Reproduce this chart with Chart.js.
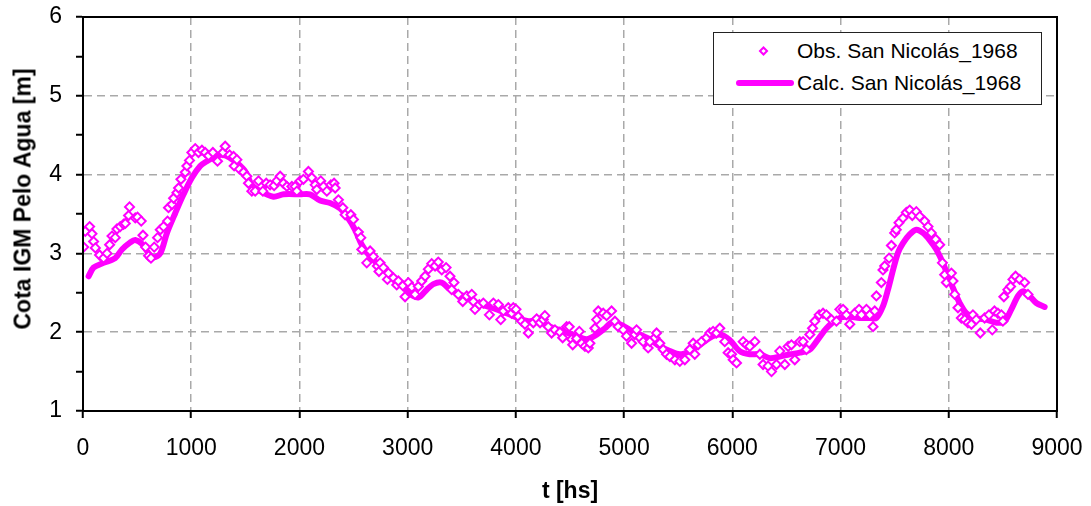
<!DOCTYPE html>
<html>
<head>
<meta charset="utf-8">
<script src="https://cdn.jsdelivr.net/npm/chart.js@4.4.0/dist/chart.umd.min.js"></script>
<style>
  body { margin: 0; background: #fff; font-family: "Liberation Sans", Arial, sans-serif; }
  #wrap { position: relative; width: 1091px; height: 506px; }
  #y-title {
    position: absolute; left: 23px; top: 199px;
    transform: translate(-50%, -50%) rotate(-90deg);
    font-weight: bold; font-size: 23px; white-space: nowrap; color: #000;
  }
  #legend {
    position: absolute; left: 713px; top: 32px; width: 327px; height: 71px;
    border: 1px solid #222; background: #fff; font-size: 21px; color: #000;
  }
  .row { position: absolute; left: 0; height: 28px; width: 100%; }
  .row span.txt { position: absolute; left: 83px; top: 50%; transform: translateY(-50%); white-space: nowrap; }
  .diamond {
    position: absolute; left: 46px; top: 50%; width: 7px; height: 7px; box-sizing: border-box;
    border: 2px solid #FF00FF; background: #fff; transform: translateY(-50%) rotate(45deg);
  }
  .line {
    position: absolute; left: 22px; width: 58px; height: 6px; top: 50%;
    background: #FF00FF; border-radius: 3px; transform: translateY(-50%);
  }
</style>
</head>
<body>
<div id="wrap">
  <canvas id="chart" width="1091" height="506"></canvas>
  <div id="y-title">Cota IGM Pelo Agua [m]</div>
  <div id="legend">
    <div class="row" style="top:4px"><div class="diamond"></div><span class="txt">Obs. San Nicolás_1968</span></div>
    <div class="row" style="top:36px"><div class="line"></div><span class="txt">Calc. San Nicolás_1968</span></div>
  </div>
</div>
<script>
const FONT = '"Liberation Sans", Arial, sans-serif';
const MAGENTA = '#FF00FF';

// observed levels (t in hours, level in m)
const obsT = [6, 21, 61, 83, 98, 114, 153, 190, 222, 246, 268, 298, 314, 344, 375, 391, 421, 430, 483, 504,
  538, 554, 578, 606, 628, 658, 689, 714, 744, 781, 790, 822, 837, 868, 883, 905, 945, 960, 984, 1006,
  1037, 1067, 1099, 1129, 1160, 1200, 1243, 1293, 1314, 1354, 1391, 1397, 1422, 1446, 1483, 1514, 1529, 1560, 1591, 1622,
  1662, 1693, 1729, 1766, 1791, 1822, 1852, 1884, 1930, 1960, 1976, 2006, 2037, 2083, 2114, 2145, 2160, 2197, 2222, 2253,
  2290, 2320, 2330, 2360, 2401, 2422, 2475, 2499, 2545, 2567, 2576, 2622, 2653, 2683, 2720, 2735, 2745, 2776, 2813, 2822,
  2868, 2899, 2914, 2955, 2976, 3006, 3038, 3068, 3099, 3130, 3161, 3191, 3222, 3253, 3283, 3315, 3355, 3391, 3407, 3428,
  3468, 3509, 3546, 3592, 3607, 3622, 3662, 3699, 3755, 3792, 3838, 3860, 3884, 3930, 3961, 3976, 4001, 4022, 4053, 4084,
  4115, 4161, 4192, 4223, 4253, 4268, 4299, 4330, 4361, 4407, 4432, 4469, 4493, 4515, 4525, 4561, 4586, 4608, 4638, 4669,
  4684, 4730, 4746, 4761, 4807, 4838, 4884, 4915, 4945, 4991, 5022, 5069, 5099, 5115, 5146, 5176, 5222, 5238, 5284, 5300,
  5330, 5361, 5392, 5423, 5469, 5515, 5561, 5607, 5638, 5653, 5684, 5715, 5761, 5792, 5822, 5853, 5884, 5930, 5961, 5993,
  6008, 6039, 6100, 6131, 6161, 6208, 6254, 6284, 6330, 6362, 6408, 6438, 6485, 6516, 6546, 6577, 6623, 6654, 6685, 6716,
  6741, 6762, 6802, 6838, 6869, 6916, 6962, 6993, 7023, 7054, 7085, 7131, 7171, 7193, 7239, 7270, 7300, 7316, 7331, 7377,
  7392, 7408, 7448, 7470, 7500, 7515, 7540, 7577, 7608, 7639, 7663, 7700, 7731, 7777, 7808, 7839, 7879, 7916, 7941, 7962,
  7978, 8024, 8039, 8055, 8085, 8116, 8147, 8177, 8209, 8223, 8254, 8291, 8331, 8371, 8402, 8422, 8454, 8486, 8500, 8509,
  8546, 8571, 8593, 8617, 8655, 8701, 8732];
const obsH = [3.08, 3.28, 3.34, 3.25, 3.15, 3.07, 2.98, 2.94, 3.00, 3.11, 3.22, 3.20, 3.31, 3.34, 3.37, 3.38, 3.48, 3.59, 3.45, 3.46,
  3.41, 3.23, 3.08, 2.97, 2.94, 3.08, 3.20, 3.30, 3.34, 3.41, 3.58, 3.62, 3.70, 3.77, 3.83, 3.94, 4.03, 4.11, 4.18, 4.28,
  4.33, 4.28, 4.31, 4.28, 4.24, 4.28, 4.17, 4.28, 4.36, 4.25, 4.23, 4.11, 4.19, 4.07, 4.03, 3.98, 3.89, 3.79, 3.79, 3.92,
  3.79, 3.89, 3.87, 3.86, 3.92, 3.98, 3.89, 3.85, 3.85, 3.85, 3.79, 3.92, 3.94, 4.04, 3.96, 3.87, 3.81, 3.92, 3.85, 3.79,
  3.87, 3.89, 3.83, 3.68, 3.58, 3.49, 3.49, 3.43, 3.27, 3.20, 3.05, 2.88, 3.03, 2.96, 2.84, 2.77, 2.88, 2.82, 2.67, 2.75,
  2.69, 2.60, 2.65, 2.59, 2.45, 2.63, 2.57, 2.48, 2.58, 2.65, 2.71, 2.80, 2.87, 2.84, 2.89, 2.79, 2.82, 2.71, 2.54, 2.63,
  2.48, 2.39, 2.46, 2.48, 2.39, 2.29, 2.35, 2.37, 2.22, 2.37, 2.35, 2.16, 2.27, 2.31, 2.24, 2.31, 2.29, 2.20, 2.14, 2.10,
  1.99, 2.12, 2.17, 2.12, 2.16, 2.21, 2.07, 1.99, 2.03, 2.00, 1.93, 2.07, 2.07, 1.91, 1.84, 1.92, 2.01, 1.86, 1.82, 1.80,
  1.86, 2.05, 2.16, 2.27, 2.24, 2.21, 2.27, 2.14, 2.07, 2.03, 1.95, 1.86, 1.97, 2.03, 1.93, 1.88, 1.80, 1.88, 1.93, 1.99,
  1.86, 1.78, 1.72, 1.69, 1.65, 1.63, 1.65, 1.78, 1.86, 1.72, 1.84, 1.88, 1.93, 1.99, 2.01, 1.99, 2.05, 1.88, 1.74, 1.72,
  1.65, 1.61, 1.88, 1.84, 1.82, 1.88, 1.72, 1.59, 1.57, 1.50, 1.59, 1.76, 1.59, 1.82, 1.84, 1.65, 1.88, 1.88, 1.78, 1.97,
  2.05, 2.14, 2.22, 2.24, 2.22, 2.16, 2.14, 2.29, 2.29, 2.22, 2.10, 2.24, 2.29, 2.22, 2.29, 2.22, 2.07, 2.27, 2.46, 2.63,
  2.79, 2.84, 2.94, 3.10, 3.26, 3.30, 3.39, 3.45, 3.52, 3.55, 3.48, 3.53, 3.47, 3.41, 3.34, 3.26, 3.18, 3.11, 2.88, 2.73,
  2.63, 2.75, 2.65, 2.48, 2.31, 2.18, 2.16, 2.12, 2.10, 2.22, 2.16, 1.99, 2.18, 2.22, 2.03, 2.27, 2.24, 2.22, 2.14, 2.45,
  2.54, 2.58, 2.67, 2.71, 2.67, 2.63, 2.48];

// computed levels
const calcT = [52, 98, 190, 298, 360, 437, 483, 545, 606, 652, 714, 776, 852, 929, 1006, 1083, 1145, 1222, 1298, 1360,
  1422, 1499, 1560, 1637, 1760, 1852, 2006, 2098, 2191, 2283, 2376, 2438, 2514, 2576, 2653, 2745, 2837, 2930, 3006, 3099,
  3176, 3237, 3315, 3376, 3453, 3546, 3638, 3730, 3823, 3915, 4038, 4115, 4192, 4315, 4438, 4561, 4654, 4746, 4823, 4884,
  4961, 5054, 5146, 5238, 5330, 5423, 5515, 5607, 5700, 5792, 5884, 5976, 6068, 6161, 6254, 6346, 6438, 6531, 6623, 6715,
  6792, 6870, 6962, 7054, 7177, 7270, 7331, 7392, 7438, 7485, 7531, 7577, 7639, 7700, 7762, 7823, 7885, 7946, 7990, 8039,
  8101, 8163, 8255, 8347, 8440, 8517, 8578, 8640, 8686, 8746, 8809, 8886];
const calcH = [2.71, 2.82, 2.88, 2.94, 3.05, 3.14, 3.17, 3.12, 3.00, 2.95, 3.00, 3.26, 3.51, 3.75, 3.96, 4.11, 4.17, 4.23, 4.25, 4.21,
  4.15, 4.04, 3.87, 3.79, 3.72, 3.75, 3.75, 3.75, 3.67, 3.64, 3.57, 3.47, 3.30, 3.11, 2.96, 2.84, 2.73, 2.63, 2.50, 2.44,
  2.54, 2.61, 2.63, 2.56, 2.50, 2.44, 2.37, 2.33, 2.29, 2.24, 2.17, 2.14, 2.14, 2.07, 2.01, 1.95, 1.91, 1.97, 2.05, 2.12,
  2.10, 2.03, 1.97, 1.91, 1.82, 1.76, 1.72, 1.76, 1.84, 1.93, 1.97, 1.90, 1.76, 1.72, 1.72, 1.67, 1.69, 1.72, 1.74, 1.78,
  1.91, 2.05, 2.16, 2.20, 2.18, 2.18, 2.18, 2.33, 2.54, 2.79, 3.01, 3.13, 3.24, 3.30, 3.26, 3.17, 3.05, 2.88, 2.72, 2.56,
  2.37, 2.24, 2.18, 2.16, 2.12, 2.14, 2.29, 2.46, 2.52, 2.46, 2.37, 2.32];

const xTicks = { min: 0, max: 9000, step: 1000 };
const yTicks = { min: 1, max: 6, step: 0.5 };

const GRID = '#a9a9a9';

const frame = {
  id: 'frame',
  afterDraw(chart) {
    const { ctx, chartArea: a } = chart;
    ctx.save();
    ctx.strokeStyle = '#000';
    ctx.lineWidth = 2;
    ctx.strokeRect(a.left, a.top, a.right - a.left, a.bottom - a.top);
    ctx.restore();
  },
};

new Chart(document.getElementById('chart'), {
  type: 'scatter',
  data: {
    datasets: [
      {
        label: 'Obs. San Nicolás_1968',
        data: obsT.map((t, i) => ({ x: t, y: obsH[i] })),
        pointStyle: 'rectRot',
        pointRadius: 4.5,
        pointBorderWidth: 2,
        borderColor: MAGENTA,
        backgroundColor: '#FFFFFF',
        showLine: false,
      },
      {
        label: 'Calc. San Nicolás_1968',
        data: calcT.map((t, i) => ({ x: t, y: calcH[i] })),
        showLine: true,
        borderColor: MAGENTA,
        backgroundColor: MAGENTA,
        borderWidth: 6,
        pointRadius: 0,
        tension: 0.3,
        borderCapStyle: 'round',
        borderJoinStyle: 'round',
      },
    ],
  },
  options: {
    responsive: false,
    animation: false,
    layout: { padding: { top: 17, right: 34, left: 0, bottom: 0 } },
    plugins: { legend: { display: false }, tooltip: { enabled: false } },
    scales: {
      x: {
        type: 'linear',
        min: xTicks.min,
        max: xTicks.max,
        ticks: {
          stepSize: xTicks.step,
          autoSkip: false,
          maxRotation: 0,
          padding: 17,
          color: '#000',
          font: { family: FONT, size: 23 },
          callback: value => String(value),
        },
        grid: { color: GRID, lineWidth: 1.5, tickColor: '#000', tickLength: 7, tickWidth: 2 },
        border: { color: '#000', width: 2, dash: [8, 5] },
        title: { display: true, text: 't [hs]', color: '#000', font: { family: FONT, size: 23, weight: 'bold' }, padding: { top: 0, bottom: 1 } },
        afterFit: scale => {
          scale.height = 95;
          scale.paddingLeft = 0;
          scale.paddingRight = 0;
        },
      },
      y: {
        min: yTicks.min,
        max: yTicks.max,
        ticks: {
          stepSize: yTicks.step,
          autoSkip: false,
          padding: 14,
          color: '#000',
          font: { family: FONT, size: 23 },
          callback: value => (Number.isInteger(value) ? String(value) : ''),
        },
        grid: {
          color: ctx => (Number.isInteger(ctx.tick?.value) ? GRID : 'rgba(0,0,0,0)'),
          lineWidth: 1.5,
          tickColor: '#000',
          tickLength: 7,
          tickWidth: 2,
        },
        border: { color: '#000', width: 2, dash: [8, 5] },
        afterFit: scale => {
          scale.width = 83;
          scale.paddingTop = 0;
          scale.paddingBottom = 0;
        },
      },
    },
  },
  plugins: [frame],
});
</script>
</body>
</html>
